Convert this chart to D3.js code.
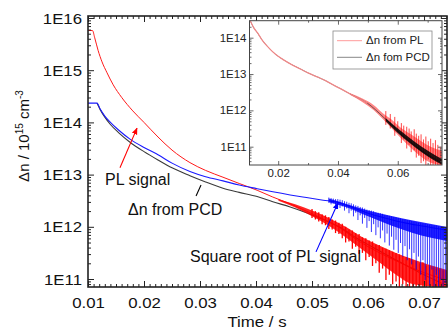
<!DOCTYPE html>
<html><head><meta charset="utf-8">
<script src="https://cdn.jsdelivr.net/npm/d3@7"></script>
<style>
html,body{margin:0;padding:0;background:#fff;}
svg{display:block;font-family:"Liberation Sans",Arial,sans-serif;}
</style></head><body>
<svg id="c" width="448" height="333"></svg>
<script>
// ---------------- DATA (time in s, values as log10 of Δn) ----------------
const xTickValues = [0.01,0.02,0.03,0.04,0.05,0.06,0.07];
const xTickLabels = ["0.01","0.02","0.03","0.04","0.05","0.06","0.07"];
const yTickExps   = [11,12,13,14,15,16];
const yTickLabels = ["1E11","1E12","1E13","1E14","1E15","1E16"];
const insetXTickValues = [0.02,0.04,0.06];
const insetXTickLabels = ["0.02","0.04","0.06"];
const insetXMinorValues = [0.03,0.05,0.07];
const insetYTickExps = [11,12,13,14];
const insetYTickLabels = ["1E11","1E12","1E13","1E14"];
const legendLabels = ["\u0394n from PL","\u0394n fom PCD"];

// main panel: raw PL signal (red)
const plSignal = [[0.0100,15.76],[0.0108,15.76],[0.0112,15.62],[0.0118,15.38],[0.0125,15.16],[0.0134,14.95],
 [0.0145,14.72],[0.0160,14.48],[0.0180,14.22],[0.0200,14.00],[0.0225,13.72],[0.0250,13.47],[0.0282,13.23],
 [0.0310,13.08],[0.0341,12.95],[0.0370,12.83],[0.0402,12.70],[0.0430,12.57],[0.0461,12.44],[0.0490,12.30],
 [0.0520,12.15],[0.0550,11.98],[0.0580,11.75],[0.0600,11.62],[0.0630,11.45],[0.0660,11.30],[0.0700,11.12],[0.0745,10.97]];
// main panel: square root of PL signal (blue)
const sqrtPL = [[0.0100,14.37],[0.0116,14.37],[0.0122,14.25],[0.0130,14.12],[0.0140,14.00],[0.0155,13.85],
 [0.0175,13.68],[0.0200,13.52],[0.0225,13.38],[0.0250,13.22],[0.0282,13.06],[0.0310,12.96],[0.0341,12.88],
 [0.0370,12.80],[0.0402,12.73],[0.0430,12.67],[0.0461,12.61],[0.0490,12.56],[0.0520,12.51],[0.0545,12.47],
 [0.0575,12.36],[0.0600,12.26],[0.0630,12.17],[0.0660,12.09],[0.0700,12.01],[0.0745,11.93]];
// main panel: Δn from PCD (black)
const pcd = [[0.0116,14.37],[0.0122,14.24],[0.0130,14.10],[0.0140,13.96],[0.0155,13.80],[0.0175,13.62],
 [0.0200,13.44],[0.0225,13.28],[0.0250,13.13],[0.0282,12.98],[0.0310,12.86],[0.0341,12.74],[0.0370,12.66],
 [0.0402,12.58],[0.0430,12.48],[0.0461,12.38],[0.0490,12.27],[0.0520,12.14],[0.0550,11.99],[0.0580,11.78],
 [0.0610,11.60],[0.0640,11.42],[0.0670,11.25],[0.0700,11.08],[0.0745,10.85]];
// noise of the red PL trace: [t, low, high]
const plBand = [[0.0440,12.50,12.53],[0.0470,12.37,12.43],[0.0500,12.20,12.31],[0.0530,12.02,12.17],[0.0560,11.80,12.00],
 [0.0590,11.56,11.80],[0.0620,11.32,11.64],[0.0650,11.08,11.50],[0.0680,10.90,11.38],[0.0745,10.84,11.16]];
const plSpikes = [[0.0500,12.17,12.34],[0.0506,12.14,12.30],[0.0512,12.10,12.28],[0.0518,12.05,12.24],[0.0524,12.03,12.22],
 [0.0530,11.96,12.19],[0.0536,11.95,12.14],[0.0542,11.88,12.12],[0.0548,11.86,12.08],[0.0554,11.78,12.06],[0.0560,11.70,12.00],
 [0.0566,11.72,11.95],[0.0572,11.58,11.93],[0.0578,11.62,11.88],[0.0584,11.48,11.86],[0.0590,11.50,11.80],[0.0596,11.36,11.78],
 [0.0602,11.42,11.74],[0.0608,11.25,11.72],[0.0614,11.30,11.66],[0.0620,11.12,11.65],[0.0626,11.20,11.60],[0.0632,10.98,11.58],
 [0.0638,11.08,11.55],[0.0644,10.90,11.52],[0.0650,10.95,11.50],[0.0656,10.84,11.47],[0.0662,10.90,11.44],[0.0668,10.84,11.42],
 [0.0674,10.84,11.40],[0.0680,10.84,11.36],[0.0686,10.84,11.34],[0.0692,10.84,11.30],[0.0698,10.84,11.32],[0.0704,10.84,11.26],
 [0.0710,10.84,11.24],[0.0716,10.84,11.22],[0.0722,10.84,11.20],[0.0728,10.84,11.18],[0.0734,10.84,11.17],[0.0740,10.84,11.15],[0.0745,10.84,11.14]];
// noise of the blue trace: [t, low, high]
const sqrtBand = [[0.0530,12.47,12.54],[0.0560,12.38,12.44],[0.0600,12.20,12.31],[0.0640,12.03,12.21],[0.0680,11.88,12.12],[0.0745,11.72,11.99]];
const sqrtSpikes = [[0.0530,12.46,12.56],[0.0534,12.43,12.55],[0.0538,12.45,12.54],[0.0542,12.40,12.53],[0.0546,12.42,12.53],
 [0.0550,12.36,12.52],[0.0554,12.39,12.51],[0.0558,12.31,12.49],[0.0562,12.35,12.48],[0.0566,12.26,12.46],[0.0570,12.31,12.45],
 [0.0574,12.20,12.43],[0.0578,12.27,12.41],[0.0582,12.13,12.40],[0.0586,12.22,12.38],[0.0590,12.06,12.37],[0.0594,12.17,12.35],
 [0.0598,11.98,12.33],[0.0602,12.11,12.32],[0.0606,11.90,12.31],[0.0610,12.05,12.30],[0.0614,11.84,12.28],[0.0618,11.99,12.27],
 [0.0622,11.78,12.26],[0.0626,11.93,12.25],[0.0630,11.70,12.23],[0.0634,11.87,12.22],[0.0638,11.64,12.21],[0.0642,11.81,12.20],
 [0.0646,11.56,12.19],[0.0650,11.75,12.18],[0.0654,11.50,12.17],[0.0658,11.69,12.16],[0.0662,11.43,12.15],[0.0666,11.63,12.14],
 [0.0670,11.36,12.13],[0.0674,11.57,12.12],[0.0678,11.28,12.11],[0.0682,11.50,12.10],[0.0686,11.18,12.09],[0.0690,11.43,12.08],
 [0.0694,11.08,12.07],[0.0698,11.36,12.07],[0.0702,10.98,12.06],[0.0706,11.28,12.05],[0.0710,10.88,12.04],[0.0714,11.18,12.03],
 [0.0718,10.84,12.03],[0.0722,11.08,12.02],[0.0726,10.84,12.01],[0.0730,10.98,12.00],[0.0734,10.84,12.00],[0.0738,10.92,11.99],[0.0742,10.84,11.98]];

// inset: Δn from PCD and Δn from PL (coincide)
const insetCurve = [[0.0104,14.50],[0.0108,14.44],[0.0112,14.37],[0.0120,14.25],[0.0131,14.13],[0.0145,13.95],[0.0164,13.76],
 [0.0190,13.55],[0.0218,13.39],[0.0245,13.26],[0.0274,13.14],[0.0300,13.03],[0.0331,12.92],[0.0360,12.81],[0.0384,12.70],
 [0.0410,12.59],[0.0441,12.45],[0.0470,12.33],[0.0498,12.20],[0.0525,12.02],[0.0551,11.82],[0.0580,11.60],[0.0608,11.37],
 [0.0636,11.17],[0.0664,10.99],[0.0690,10.83],[0.0718,10.69],[0.0748,10.55]];
const insetPLBand = [[0.0440,12.43,12.47],[0.0480,12.24,12.33],[0.0520,12.00,12.14],[0.0550,11.76,11.92],[0.0580,11.50,11.74],
 [0.0610,11.24,11.52],[0.0640,11.00,11.36],[0.0670,10.78,11.20],[0.0700,10.60,11.04],[0.0748,10.49,10.88]];
const insetPLSpikes = [[0.0560,11.60,11.98],[0.0575,11.50,11.90],[0.0590,11.30,11.82],[0.0600,11.40,11.70],[0.0612,11.10,11.65],
 [0.0620,11.20,11.58],[0.0630,10.95,11.55],[0.0638,11.05,11.50],[0.0645,10.85,11.42],[0.0655,10.90,11.48],[0.0662,10.70,11.36],
 [0.0670,10.75,11.30],[0.0678,10.55,11.34],[0.0686,10.60,11.20],[0.0694,10.49,11.28],[0.0702,10.65,11.15],[0.0710,10.49,11.22],
 [0.0718,10.49,11.10],[0.0726,10.49,11.18],[0.0734,10.49,11.05],[0.0742,10.49,11.00]];
const insetPCDBand = [[0.0560,11.70,11.78],[0.0600,11.38,11.50],[0.0640,11.10,11.24],[0.0680,10.85,11.00],[0.0748,10.50,10.66]];

// annotations (data coordinates)
const annotTexts = [
  {text:"PL signal", t:0.01304, L:12.80},
  {text:"\u0394n from PCD", t:0.01714, L:12.226},
  {text:"Square root of PL signal", t:0.02821, L:11.326}
];
const annotArrows = [
  {color:"#ff0000", from:[0.01571,13.13], to:[0.01875,13.89], head:true},
  {color:"#000000", from:[0.02929,12.59], to:[0.03018,12.80], head:false},
  {color:"#0000ff", from:[0.05071,11.52], to:[0.05464,12.46], head:true}
];

// ---------------- DRAWING ----------------
const svg = d3.select("#c");
const L2V = l => Math.pow(10, l);

const x = d3.scaleLinear().domain([0.01, 0.0741]).range([88, 447]);
const y = d3.scaleLog().domain([L2V(10.847), L2V(16.038)]).range([287, 16]);
const xi = d3.scaleLinear().domain([0.0104, 0.0748]).range([249.5, 442]);
const yi = d3.scaleLog().domain([L2V(10.496), L2V(14.468)]).range([165, 20.7]);

const defs = svg.append("defs");
defs.append("clipPath").attr("id","clipMain").append("rect")
  .attr("x",88).attr("y",16).attr("width",359).attr("height",271);
defs.append("clipPath").attr("id","clipInset").append("rect")
  .attr("x",249.5).attr("y",20.7).attr("width",192.5).attr("height",144.3);
["#ff0000","#0000ff"].forEach((c,i)=>{
  defs.append("marker").attr("id","ah"+i).attr("viewBox","0 0 10 10").attr("refX",9).attr("refY",5)
    .attr("markerWidth",7).attr("markerHeight",7).attr("orient","auto-start-reverse")
    .attr("markerUnits","userSpaceOnUse")
    .append("path").attr("d","M0,1 L10,5 L0,9 z").attr("fill",c);
});

function minorLogValues(lo, hi){
  const out=[];
  for(let e=Math.floor(lo); e<=Math.ceil(hi); e++){
    for(let k=2;k<=9;k++){ const l=e+Math.log10(k); if(l>lo && l<hi) out.push(L2V(l)); }
  }
  return out;
}

// ---------- main panel data ----------
const gm = svg.append("g").attr("clip-path","url(#clipMain)");
const lineM = d3.line().x(d=>x(d[0])).y(d=>y(L2V(d[1]))).curve(d3.curveMonotoneX);
const areaM = d3.area().x(d=>x(d[0])).y0(d=>y(L2V(d[1]))).y1(d=>y(L2V(d[2]))).curve(d3.curveMonotoneX);

gm.append("path").datum(pcd).attr("d",lineM).attr("fill","none").attr("stroke","#3a3a3a").attr("stroke-width",1.1);

gm.append("path").datum(plSignal).attr("d",lineM).attr("fill","none").attr("stroke","#ff1a1a").attr("stroke-width",1);
gm.append("path").datum(plBand).attr("d",areaM).attr("fill","#ff0000").attr("opacity",0.85);
gm.selectAll("line.ps").data(plSpikes).enter().append("line")
  .attr("x1",d=>x(d[0])).attr("x2",d=>x(d[0]))
  .attr("y1",d=>y(L2V(d[1]))).attr("y2",d=>y(L2V(d[2])))
  .attr("stroke","#ff0000").attr("stroke-width",1.3);

gm.append("path").datum(sqrtPL).attr("d",lineM).attr("fill","none").attr("stroke","#1a1aff").attr("stroke-width",1.1);
gm.append("path").datum(sqrtBand).attr("d",areaM).attr("fill","#0000ff").attr("opacity",0.85);
gm.selectAll("line.bs").data(sqrtSpikes).enter().append("line")
  .attr("x1",d=>x(d[0])).attr("x2",d=>x(d[0]))
  .attr("y1",d=>y(L2V(d[1]))).attr("y2",d=>y(L2V(d[2])))
  .attr("stroke","#0000ff").attr("stroke-width",0.8);

// ---------- main axes ----------
const majorY = yTickExps.map(L2V);
const minorY = minorLogValues(10.847, 16.038);
const minorX = d3.range(10, 75).map(v=>v/1000).filter(v=>Math.round(v*1000)%10!==0 && v<=0.0741);

function styleAxis(g){ g.select(".domain").remove(); g.selectAll(".tick line").attr("stroke","#222").attr("stroke-width",1); }

const axB = svg.append("g").attr("transform","translate(0,287)")
  .call(d3.axisBottom(x).tickValues(xTickValues).tickSize(-6).tickFormat((d,i)=>xTickLabels[i]));
styleAxis(axB);
axB.selectAll("text").attr("y",11).attr("dy","0.71em").attr("font-size",14).attr("fill","#111")
  .attr("font-family","Liberation Sans, Arial, sans-serif").attr("transform","scale(1.2,1)");
svg.append("g").attr("transform","translate(0,287)")
  .call(d3.axisBottom(x).tickValues(minorX).tickSize(-3).tickFormat("")).call(styleAxis);
svg.append("g").attr("transform","translate(0,16)")
  .call(d3.axisTop(x).tickValues(xTickValues).tickSize(-6).tickFormat("")).call(styleAxis);
svg.append("g").attr("transform","translate(0,16)")
  .call(d3.axisTop(x).tickValues(minorX).tickSize(-3).tickFormat("")).call(styleAxis);

const axL = svg.append("g").attr("transform","translate(88,0)")
  .call(d3.axisLeft(y).tickValues(majorY).tickSize(-6).tickFormat((d,i)=>yTickLabels[i]));
styleAxis(axL);
axL.selectAll("text").attr("x",-5).attr("dy","0.36em").attr("font-size",14).attr("fill","#111")
  .attr("font-family","Liberation Sans, Arial, sans-serif").attr("transform","scale(1.2,1)");
svg.append("g").attr("transform","translate(88,0)")
  .call(d3.axisLeft(y).tickValues(minorY).tickSize(-3).tickFormat("")).call(styleAxis);
svg.append("g").attr("transform","translate(447,0)")
  .call(d3.axisRight(y).tickValues(majorY).tickSize(-6).tickFormat("")).call(styleAxis);
svg.append("g").attr("transform","translate(447,0)")
  .call(d3.axisRight(y).tickValues(minorY).tickSize(-3).tickFormat("")).call(styleAxis);

svg.append("rect").attr("x",88).attr("y",16).attr("width",359).attr("height",271)
  .attr("fill","none").attr("stroke","#222").attr("stroke-width",1.6);

// axis titles
svg.append("text").attr("transform","translate(257,327) scale(1.2,1)").attr("text-anchor","middle")
  .attr("font-size",14).attr("fill","#111").text("Time / s");
const yt = svg.append("text").attr("transform","translate(29,136) rotate(-90)").attr("text-anchor","middle")
  .attr("font-size",15).attr("fill","#111");
yt.append("tspan").text("\u0394n / 10");
yt.append("tspan").attr("font-size",10).attr("dy",-6).text("15");
yt.append("tspan").attr("dy",6).text(" cm");
yt.append("tspan").attr("font-size",10).attr("dy",-6).text("-3");

// annotations
annotArrows.forEach((a,i)=>{
  const ln = svg.append("line")
    .attr("x1",x(a.from[0])).attr("y1",y(L2V(a.from[1])))
    .attr("x2",x(a.to[0])).attr("y2",y(L2V(a.to[1])))
    .attr("stroke",a.color).attr("stroke-width",1.1);
  if(a.head) ln.attr("marker-end","url(#ah"+(a.color==="#ff0000"?0:1)+")");
});
annotTexts.forEach(a=>{
  svg.append("text").attr("x",x(a.t)).attr("y",y(L2V(a.L))).attr("font-size",16).attr("fill","#111").text(a.text);
});

// ---------- inset ----------
svg.append("rect").attr("x",249.5).attr("y",20.7).attr("width",192.5).attr("height",144.3).attr("fill","#fff");
const gi = svg.append("g").attr("clip-path","url(#clipInset)");
const lineI = d3.line().x(d=>xi(d[0])).y(d=>yi(L2V(d[1]))).curve(d3.curveMonotoneX);
const areaI = d3.area().x(d=>xi(d[0])).y0(d=>yi(L2V(d[1]))).y1(d=>yi(L2V(d[2]))).curve(d3.curveMonotoneX);

gi.append("path").datum(insetPLBand).attr("d",areaI).attr("fill","#ff2020").attr("opacity",0.55);
gi.selectAll("line.is").data(insetPLSpikes).enter().append("line")
  .attr("x1",d=>xi(d[0])).attr("x2",d=>xi(d[0]))
  .attr("y1",d=>yi(L2V(d[1]))).attr("y2",d=>yi(L2V(d[2])))
  .attr("stroke","#ff0000").attr("stroke-width",0.9).attr("opacity",0.8);
gi.append("path").datum(insetCurve).attr("d",lineI).attr("fill","none").attr("stroke","#333").attr("stroke-width",0.7);
gi.append("path").datum(insetPCDBand).attr("d",areaI).attr("fill","#000").attr("opacity",0.85);
gi.append("path").datum(insetCurve.filter(d=>d[0]<0.05)).attr("d",lineI).attr("fill","none")
  .attr("stroke","#ff8a8a").attr("stroke-width",1.3).attr("opacity",0.85);

const iMajorY = insetYTickExps.map(L2V);
const iMinorY = minorLogValues(10.496, 14.468);
function styleInset(g){ g.select(".domain").remove(); g.selectAll(".tick line").attr("stroke","#444").attr("stroke-width",0.8); }

const iaB = svg.append("g").attr("transform","translate(0,165)")
  .call(d3.axisBottom(xi).tickValues(insetXTickValues).tickSize(-4).tickFormat((d,i)=>insetXTickLabels[i]));
styleInset(iaB);
iaB.selectAll("text").attr("y",4.5).attr("dy","0.71em").attr("font-size",10).attr("fill","#222")
  .attr("font-family","Liberation Sans, Arial, sans-serif").attr("transform","scale(1.15,1)");
svg.append("g").attr("transform","translate(0,165)")
  .call(d3.axisBottom(xi).tickValues(insetXMinorValues).tickSize(-2).tickFormat("")).call(styleInset);
svg.append("g").attr("transform","translate(0,20.7)")
  .call(d3.axisTop(xi).tickValues(insetXTickValues).tickSize(-4).tickFormat("")).call(styleInset);
svg.append("g").attr("transform","translate(0,20.7)")
  .call(d3.axisTop(xi).tickValues(insetXMinorValues).tickSize(-2).tickFormat("")).call(styleInset);

const iaL = svg.append("g").attr("transform","translate(249.5,0)")
  .call(d3.axisLeft(yi).tickValues(iMajorY).tickSize(-4).tickFormat((d,i)=>insetYTickLabels[i]));
styleInset(iaL);
iaL.selectAll("text").attr("x",-2.6).attr("dy","0.36em").attr("font-size",10).attr("fill","#222")
  .attr("font-family","Liberation Sans, Arial, sans-serif").attr("transform","scale(1.15,1)");
svg.append("g").attr("transform","translate(249.5,0)")
  .call(d3.axisLeft(yi).tickValues(iMinorY).tickSize(-2).tickFormat("")).call(styleInset);
svg.append("g").attr("transform","translate(442,0)")
  .call(d3.axisRight(yi).tickValues(iMajorY).tickSize(-4).tickFormat("")).call(styleInset);
svg.append("g").attr("transform","translate(442,0)")
  .call(d3.axisRight(yi).tickValues(iMinorY).tickSize(-2).tickFormat("")).call(styleInset);

svg.append("rect").attr("x",249.5).attr("y",20.7).attr("width",192.5).attr("height",144.3)
  .attr("fill","none").attr("stroke","#444").attr("stroke-width",1);

// legend
svg.append("rect").attr("x",333).attr("y",31).attr("width",99).attr("height",38)
  .attr("fill","#fff").attr("stroke","#888").attr("stroke-width",0.8);
const legColors = ["#ff9a9a","#888888"];
legendLabels.forEach((lab,i)=>{
  const yy = 40.7 + i*16.6;
  svg.append("line").attr("x1",337).attr("x2",362).attr("y1",yy).attr("y2",yy)
    .attr("stroke",legColors[i]).attr("stroke-width",1);
  svg.append("text").attr("transform",`translate(366,${yy}) scale(1.15,1)`).attr("dy","0.35em")
    .attr("font-size",10).attr("fill","#222").text(lab);
});
</script>
</body></html>
